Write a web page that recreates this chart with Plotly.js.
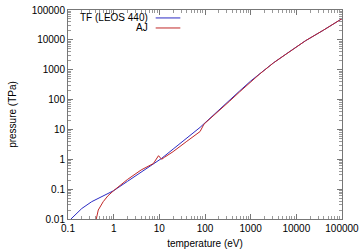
<!DOCTYPE html>
<html>
<head>
<meta charset="utf-8">
<script src="https://cdn.plot.ly/plotly-3.0.1.min.js"></script>
<style>html,body{margin:0;padding:0;background:#fff;}#chart{width:360px;height:252px;}</style>
</head>
<body>
<div id="chart"></div>
<script>
// TF (LEOS 440)
const tfTemp = [0.116, 0.2, 0.33, 0.5, 1, 2, 4, 8, 11.2, 20, 40, 78, 158, 347, 575, 1000, 1585, 3162, 6166, 15849, 39811, 100000];
const tfPres = [0.01, 0.0224, 0.038, 0.0525, 0.089, 0.182, 0.38, 0.76, 1.07, 2.19, 5.25, 11.7, 31.6, 100, 195, 417, 741, 1700, 3470, 9330, 21400, 51300];
// AJ
const ajTemp = [0.41, 0.46, 0.59, 0.75, 1, 2, 4, 6, 7.4, 9.6, 11.2, 13, 20, 40, 66, 78, 95, 158, 347, 575, 1000, 1585, 3162, 6166, 15849, 39811, 100000];
const ajPres = [0.009, 0.02, 0.038, 0.06, 0.089, 0.21, 0.44, 0.63, 0.72, 1.32, 1.0, 1.17, 1.8, 4.0, 7.4, 8.5, 15, 29.5, 89, 182, 400, 724, 1700, 3470, 9330, 21400, 51300];

const xTickVals = [0.1, 1, 10, 100, 1000, 10000, 100000];
const xTickText = ["0.1", "1", "10", "100", "1000", "10000", "100000"];
const yTickVals = [0.01, 0.1, 1, 10, 100, 1000, 10000, 100000];
const yTickText = ["0.01", "0.1", "1", "10", "100", "1000", "10000", "100000"];

const seriesNames = ["TF (LEOS 440)", "AJ"];
const colors = ["#2b2bc4", "#c02828"];

const font = {family: "Liberation Sans, Arial, sans-serif", size: 10, color: "#000"};

const traces = [
  {x: tfTemp, y: tfPres, type: "scatter", mode: "lines", name: seriesNames[0], line: {color: colors[0], width: 1}},
  {x: ajTemp, y: ajPres, type: "scatter", mode: "lines", name: seriesNames[1], line: {color: colors[1], width: 1}}
];

const axisCommon = {
  type: "log",
  showgrid: false,
  zeroline: false,
  showline: true,
  linecolor: "#777",
  linewidth: 1,
  mirror: "ticks",
  ticks: "inside",
  ticklen: 5,
  tickcolor: "#777",
  tickfont: font,
  minor: {ticks: "inside", ticklen: 3, tickcolor: "#999", dtick: "D1"}
};

const layout = {
  width: 360, height: 252,
  margin: {l: 68, r: 18, t: 10, b: 33},
  paper_bgcolor: "#fff", plot_bgcolor: "#fff",
  showlegend: false,
  font: font,
  xaxis: Object.assign({}, axisCommon, {
    range: [-1, 5], tickvals: xTickVals, ticktext: xTickText,
    title: {text: "temperature (eV)", font: font, standoff: 6}
  }),
  yaxis: Object.assign({}, axisCommon, {
    range: [-2, 5], tickvals: yTickVals, ticktext: yTickText,
    title: {text: "pressure (TPa)", font: font, standoff: 13}
  }),
  annotations: seriesNames.map((n, i) => ({
    xref: "paper", yref: "paper", x: 0.298, y: 0.962 - i * 0.048,
    xanchor: "right", yanchor: "middle", showarrow: false, text: n, font: font
  })),
  shapes: colors.map((c, i) => ({
    type: "line", xref: "paper", yref: "paper",
    x0: 0.32, x1: 0.41, y0: 0.962 - i * 0.048, y1: 0.962 - i * 0.048,
    line: {color: c, width: 1}
  }))
};

Plotly.newPlot("chart", traces, layout, {displayModeBar: false, staticPlot: true});
</script>
</body>
</html>
